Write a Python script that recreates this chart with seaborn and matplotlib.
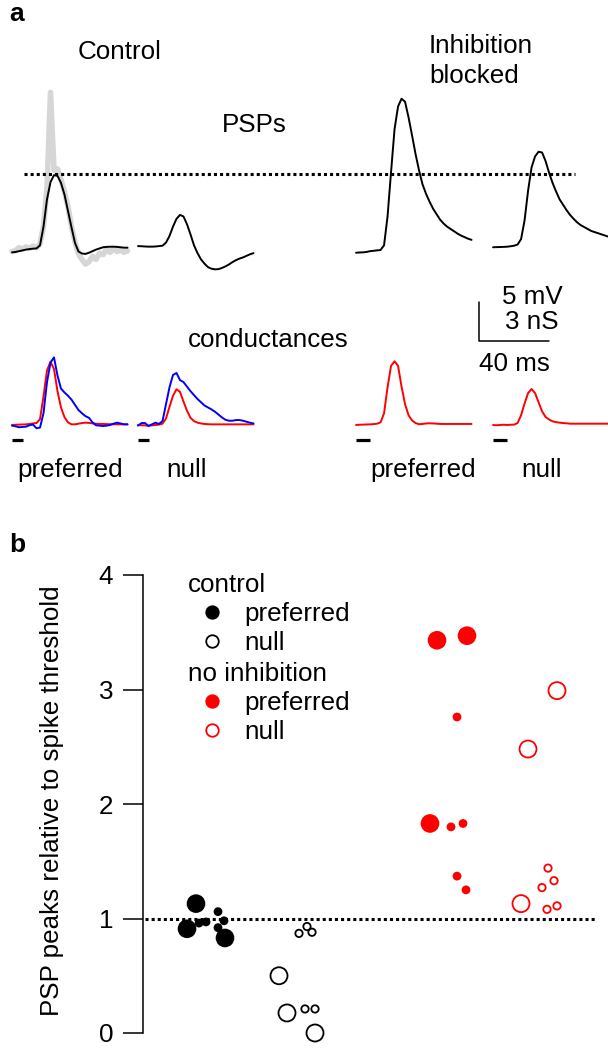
import numpy as np
import pandas as pd
import matplotlib
matplotlib.use("Agg")
import matplotlib.pyplot as plt
from matplotlib.lines import Line2D
import seaborn as sns

# ---------------- panel a: sweeps sampled every 2 ms ----------------
t_ms = np.arange(34) * 2.0

# PSPs (mV, relative to resting level)
psp_ctrl_pref = [-0.3, -0.25, -0.15, -0.05, 0.05, 0.12, 0.17, 0.2, 0.6, 3.0, 6.5, 8.7,
                 9.6, 9.5, 8.6, 7.1, 5.0, 2.9, 0.9, -0.2, -0.45, -0.5, -0.35, -0.15,
                 0.05, 0.2, 0.35, 0.4, 0.42, 0.42, 0.4, 0.35, 0.3, 0.3]
psp_ctrl_pref_spike = [-0.2, -0.1, 0.3, 0.1, 0.4, 0.2, 0.5, 0.3, 0.8, 3.0, 8.0, 20.2,
                       10.2, 10.4, 9.0, 7.5, 5.5, 3.0, 1.0, -0.5, -1.2, -1.8, -1.5, -0.8,
                       -1.2, -0.4, -0.6, 0.1, -0.3, 0.2, -0.2, 0.0, -0.3, -0.1]
psp_ctrl_null = [0.5, 0.48, 0.45, 0.43, 0.43, 0.45, 0.5, 0.55, 0.95, 1.8, 3.0, 4.0,
                 4.5, 4.3, 3.3, 2.0, 0.6, -0.4, -1.2, -1.75, -2.2, -2.4, -2.48, -2.45,
                 -2.3, -2.1, -1.85, -1.55, -1.3, -1.1, -0.95, -0.75, -0.55, -0.4]
psp_block_pref = [-0.35, -0.32, -0.3, -0.25, -0.15, -0.1, -0.05, 0.0, 0.6, 4.3, 10.0, 15.5,
                  18.4, 19.4, 19.0, 17.0, 14.7, 12.3, 10.2, 8.4, 7.2, 6.2, 5.3, 4.6,
                  3.9, 3.4, 3.0, 2.7, 2.4, 2.1, 1.85, 1.65, 1.45, 1.3]
psp_block_null = [0.35, 0.37, 0.38, 0.4, 0.42, 0.48, 0.55, 0.7, 1.4, 3.8, 7.6, 10.6,
                  12.0, 12.6, 12.5, 11.4, 9.9, 8.6, 7.5, 6.5, 5.8, 5.1, 4.5, 4.0,
                  3.55, 3.2, 2.95, 2.7, 2.45, 2.3, 2.15, 2.0, 1.85, 1.7]
threshold_mv = 9.74

# conductances (nS): red = excitatory, blue = inhibitory
g_exc_ctrl_pref = [0.0, 0.02, 0.03, 0.04, 0.05, 0.08, 0.12, 0.15, 0.45, 2.2, 4.2, 4.87,
                   4.3, 2.6, 1.35, 0.6, 0.2, 0.05, 0.05, 0.1, 0.15, 0.18, 0.16, 0.12,
                   0.1, 0.08, 0.08, 0.07, 0.06, 0.06, 0.05, 0.05, 0.05, 0.05]
g_inh_ctrl_pref = [-0.05, -0.1, -0.17, -0.15, -0.13, -0.02, 0.03, -0.25, -0.2, 0.9, 3.3, 4.8,
                   5.2, 3.8, 2.8, 2.5, 2.25, 1.95, 1.55, 1.15, 0.9, 0.68, 0.55, 0.2,
                   -0.02, -0.05, -0.08, -0.05, 0.0, 0.1, 0.18, 0.12, 0.05, 0.05]
g_exc_ctrl_null = [0.0, -0.02, -0.03, -0.05, -0.03, 0.0, 0.03, 0.1, 0.5, 1.4, 2.25, 2.75,
                   2.55, 1.8, 1.1, 0.55, 0.3, 0.18, 0.12, 0.08, 0.06, 0.05, 0.05, 0.05,
                   0.05, 0.05, 0.05, 0.05, 0.05, 0.05, 0.05, 0.05, 0.05, 0.05]
g_inh_ctrl_null = [-0.05, 0.15, 0.15, -0.08, 0.05, 0.18, 0.08, 0.3, 1.6, 2.9, 3.85, 4.0,
                   3.45, 3.3, 2.95, 2.6, 2.3, 2.0, 1.75, 1.5, 1.35, 1.2, 1.02, 0.8,
                   0.58, 0.4, 0.33, 0.33, 0.38, 0.38, 0.33, 0.25, 0.18, 0.12]
g_exc_block_pref = [0.0, 0.02, 0.03, 0.04, 0.05, 0.07, 0.1, 0.2, 0.9, 2.9, 4.55, 4.9,
                    4.55, 2.95, 1.6, 0.75, 0.35, 0.15, 0.06, 0.08, 0.12, 0.13, 0.12, 0.1,
                    0.08, 0.08, 0.08, 0.08, 0.08, 0.08, 0.08, 0.08, 0.08, 0.08]
g_exc_block_null = [0.0, -0.02, 0.0, 0.02, 0.0, 0.02, 0.03, 0.15, 0.75, 1.65, 2.45, 2.77,
                    2.45, 1.75, 1.05, 0.62, 0.42, 0.28, 0.22, 0.18, 0.15, 0.13, 0.1, 0.1,
                    0.1, 0.1, 0.1, 0.1, 0.1, 0.1, 0.1, 0.1, 0.1, 0.1]
stim_ms = [6, 6, 8, 8]
scale_ms, scale_mv, scale_ns = 40, 5, 3

# ---------------- panel b: PSP peak / spike threshold ----------------
ctrl_pref_x = [44, 53, 82, 63, 56, 75, 81, 75]
ctrl_pref_y = [0.91, 1.13, 0.83, 0.97, 0.96, 1.06, 0.98, 0.92]
ctrl_pref_dot = ["large", "large", "large", "small", "small", "small", "small", "small"]
ctrl_null_x = [136, 144, 172, 162, 172, 156, 164, 169]
ctrl_null_y = [0.50, 0.175, 0.0, 0.21, 0.21, 0.87, 0.93, 0.88]
ctrl_null_dot = ["large", "large", "large", "small", "small", "small", "small", "small"]
noinh_pref_x = [294, 324, 314, 287, 308, 320, 314, 323]
noinh_pref_y = [3.43, 3.47, 2.76, 1.83, 1.80, 1.83, 1.37, 1.25]
noinh_pref_dot = ["large", "large", "small", "large", "small", "small", "small", "small"]
noinh_null_x = [414, 385, 378, 405, 411, 399, 404, 414]
noinh_null_y = [2.99, 2.48, 1.13, 1.44, 1.33, 1.27, 1.08, 1.11]
noinh_null_dot = ["large", "large", "large", "small", "small", "small", "small", "small"]

RED, BLUE = "#ff0000", "#0000ff"

sns.set_style("white")
plt.rcParams["font.family"] = ["Liberation Sans", "DejaVu Sans"]
plt.rcParams["text.color"] = "black"
plt.rcParams["axes.labelcolor"] = "black"
plt.rcParams["ytick.color"] = "black"
FS = 18.7

W, H = 608, 1050
fig = plt.figure(figsize=(W / 100, H / 100), dpi=100)


def fx(px):
    return px / W


def fy(py):
    return 1 - py / H


# layout of the sweeps (ms along a shared time axis)
sweep_start = [0, 72, 196.6, 274.9]
xlim_ms = (-12 / 1.75, (W - 12) / 1.75)

ax_psp = fig.add_axes([0, fy(290), 1, (290 - 85) / H])
ax_psp.set_xlim(*xlim_ms)
ax_psp.set_ylim(-40 / 7.8, 165 / 7.8)
ax_psp.axis("off")

ax_g = fig.add_axes([0, fy(455), 1, (455 - 290) / H])
ax_g.set_xlim(*xlim_ms)
ax_g.set_ylim(-30 / 13, 135 / 13)
ax_g.axis("off")


def trace(ax, start, vals, color, lw=1.4):
    sns.lineplot(x=t_ms + start, y=vals, ax=ax, color=color, linewidth=lw,
                 estimator=None, sort=False)


trace(ax_psp, sweep_start[0], psp_ctrl_pref_spike, "#d6d6d6", lw=4.0)
trace(ax_psp, sweep_start[0], psp_ctrl_pref, "black")
trace(ax_psp, sweep_start[1], psp_ctrl_null, "black")
trace(ax_psp, sweep_start[2], psp_block_pref, "black")
trace(ax_psp, sweep_start[3], psp_block_null, "black")
ax_psp.hlines(threshold_mv, 7, 321.7, colors="black", linewidth=2.2,
              linestyles=(0, (1, 1)))

trace(ax_g, sweep_start[0], g_exc_ctrl_pref, RED)
trace(ax_g, sweep_start[0], g_inh_ctrl_pref, BLUE)
trace(ax_g, sweep_start[1], g_exc_ctrl_null, RED)
trace(ax_g, sweep_start[1], g_inh_ctrl_null, BLUE)
trace(ax_g, sweep_start[2], g_exc_block_pref, RED)
trace(ax_g, sweep_start[3], g_exc_block_null, RED)
for s, d in zip(sweep_start, stim_ms):
    ax_g.plot([s, s + d], [-1.15, -1.15], color="black", linewidth=2.3,
              solid_capstyle="butt")

# scale bar (5 mV / 3 nS share the same height)
sb_x, sb_y = 266.9, 6.46
ax_g.plot([sb_x, sb_x, sb_x + scale_ms], [sb_y + scale_ns, sb_y, sb_y],
          color="black", linewidth=1.1, clip_on=False)
fig.text(fx(532), fy(297), f"{scale_mv} mV", fontsize=FS, ha="center", va="center")
fig.text(fx(532), fy(322), f"{scale_ns} nS", fontsize=FS, ha="center", va="center")
fig.text(fx(514), fy(364), f"{scale_ms} ms", fontsize=FS, ha="center", va="center")

fig.text(fx(17), fy(14), "a", fontsize=19, fontweight="bold", ha="center", va="center")
fig.text(fx(120), fy(52), "Control", fontsize=FS, ha="center", va="center")
fig.text(fx(429), fy(61), "Inhibition\nblocked", fontsize=FS, ha="left", va="center",
         linespacing=1.3)
fig.text(fx(254), fy(125), "PSPs", fontsize=FS, ha="center", va="center")
fig.text(fx(268), fy(340), "conductances", fontsize=FS, ha="center", va="center")
for xc, lab in zip([70, 187, 423, 542], ["preferred", "null", "preferred", "null"]):
    fig.text(fx(xc), fy(470), lab, fontsize=FS, ha="center", va="center")

# ---------------- panel b ----------------
fig.text(fx(17), fy(545), "b", fontsize=19, fontweight="bold", ha="center", va="center")
ax_b = fig.add_axes([fx(143), fy(1033), (600 - 143) / W, (1033 - 575) / H])

groups = [
    ("control preferred", ctrl_pref_x, ctrl_pref_y, ctrl_pref_dot, "black", True),
    ("control null", ctrl_null_x, ctrl_null_y, ctrl_null_dot, "black", False),
    ("no inhibition preferred", noinh_pref_x, noinh_pref_y, noinh_pref_dot, RED, True),
    ("no inhibition null", noinh_null_x, noinh_null_y, noinh_null_dot, RED, False),
]
for name, xs, ys, dots, col, filled in groups:
    df = pd.DataFrame({"x": xs, "y": ys, "dot": dots})
    areas = {"large": 180, "small": 40} if filled else {"large": 150, "small": 28}
    sns.scatterplot(data=df, x="x", y="y", size="dot", sizes=areas, color=col,
                    edgecolor="none", legend=False, ax=ax_b)
    coll = ax_b.collections[-1]
    coll.set_clip_on(False)
    if not filled:
        coll.set_facecolor("none")
        coll.set_edgecolor(col)
        coll.set_linewidth(1.3)

ax_b.hlines(1, 2, 454, colors="black", linewidth=2.2, linestyles=(0, (1, 1)))
ax_b.set_xlim(0, 457)
ax_b.set_ylim(0, 4)
ax_b.set_xticks([])
ax_b.set_yticks([0, 1, 2, 3, 4])
ax_b.tick_params(axis="y", length=14.5, width=1.1, pad=7, labelsize=FS, left=True,
                 colors="black")
for side in ["top", "right", "bottom"]:
    ax_b.spines[side].set_visible(False)
ax_b.spines["left"].set_bounds(0, 4)
ax_b.spines["left"].set_linewidth(1.1)
ax_b.spines["left"].set_color("black")
ax_b.set_xlabel("")
ax_b.set_ylabel("PSP peaks relative to spike threshold", fontsize=FS)
ax_b.yaxis.set_label_coords(-0.172, 0.507)


def handle(col, filled):
    return Line2D([], [], marker="o", ls="none", markersize=9,
                  markerfacecolor=col if filled else "white",
                  markeredgecolor=col, markeredgewidth=1.3)


leg_kw = dict(loc="upper left", bbox_transform=fig.transFigure, frameon=False,
              fontsize=FS, title_fontsize=FS, alignment="left", handlelength=1.85,
              handletextpad=0.3, labelspacing=0.2, borderpad=0, borderaxespad=0)
leg1 = ax_b.legend(handles=[handle("black", True), handle("black", False)],
                   labels=["preferred", "null"], title="control",
                   bbox_to_anchor=(fx(188), fy(573)), **leg_kw)
ax_b.add_artist(leg1)
ax_b.legend(handles=[handle(RED, True), handle(RED, False)],
            labels=["preferred", "null"], title="no inhibition",
            bbox_to_anchor=(fx(188), fy(662)), **leg_kw)

fig.savefig("out.png", dpi=100)
